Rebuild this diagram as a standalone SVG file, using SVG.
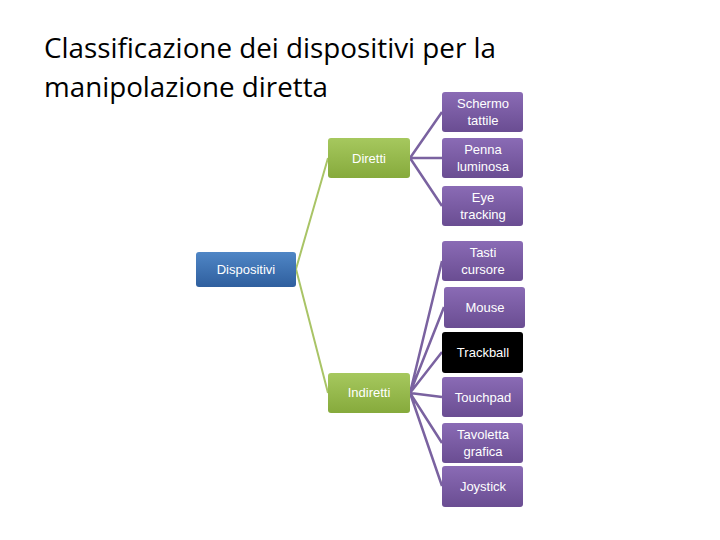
<svg xmlns="http://www.w3.org/2000/svg" width="720" height="540" viewBox="0 0 720 540">
<defs>
<linearGradient id="gb" x1="0" y1="0" x2="0" y2="1"><stop offset="0" stop-color="#4f86c6"/><stop offset="1" stop-color="#2f5f9e"/></linearGradient>
<linearGradient id="gg" x1="0" y1="0" x2="0" y2="1"><stop offset="0" stop-color="#a6c85e"/><stop offset="1" stop-color="#86aa3c"/></linearGradient>
<linearGradient id="gp" x1="0" y1="0" x2="0" y2="1"><stop offset="0" stop-color="#8a6bb5"/><stop offset="1" stop-color="#6a4d92"/></linearGradient>
<style>
.t{font-family:"Liberation Sans","DejaVu Sans",sans-serif;font-size:13px;fill:#fff;text-anchor:middle}
.h{font-family:"Open Sans","Liberation Sans",sans-serif;font-size:27px;fill:#000}
.lg{stroke:#a9c466;stroke-width:2;fill:none}
.lp{stroke:#7a62a0;stroke-width:2.5;fill:none}
.b{fill:url(#gb)}.g{fill:url(#gg)}.p{fill:url(#gp)}.k{fill:#000}
</style>
</defs>
<rect width="720" height="540" fill="#fff"/>
<text class="h" x="44" y="58" textLength="452" lengthAdjust="spacingAndGlyphs">Classificazione dei dispositivi per la</text>
<text class="h" x="44" y="97" textLength="284" lengthAdjust="spacingAndGlyphs">manipolazione diretta</text>
<g id="connectors">
<path class="lg" d="M296 269 L328 158 M296 269 L328 393"/>
<path class="lp" d="M410 158 L442 112 M410 158 L442 158 M410 158 L442 206"/>
<path class="lp" d="M410 393 L442 261 M410 393 L444 307 M410 393 L442 352 M410 393 L442 397 M410 393 L442 443 M410 393 L442 486"/>
</g>
<g id="n-dispositivi"><rect class="b" x="196" y="252" width="100" height="35" rx="3"/><text class="t" x="246" y="274">Dispositivi</text></g>
<g id="n-diretti"><rect class="g" x="328" y="138" width="82" height="40" rx="3"/><text class="t" x="369" y="163">Diretti</text></g>
<g id="n-indiretti"><rect class="g" x="328" y="373" width="82" height="40" rx="3"/><text class="t" x="369" y="397">Indiretti</text></g>
<g id="n-schermo"><rect class="p" x="442" y="92" width="81" height="40" rx="3"/><text class="t" x="483" y="108">Schermo</text><text class="t" x="483" y="125">tattile</text></g>
<g id="n-penna"><rect class="p" x="442" y="138" width="81" height="40" rx="3"/><text class="t" x="483" y="154">Penna</text><text class="t" x="483" y="171">luminosa</text></g>
<g id="n-eye"><rect class="p" x="442" y="186" width="81" height="40" rx="3"/><text class="t" x="483" y="202">Eye</text><text class="t" x="483" y="219">tracking</text></g>
<g id="n-tasti"><rect class="p" x="442" y="241" width="81" height="40" rx="3"/><text class="t" x="483" y="257">Tasti</text><text class="t" x="483" y="274">cursore</text></g>
<g id="n-mouse"><rect class="p" x="444" y="287" width="81" height="41" rx="3"/><text class="t" x="485" y="312">Mouse</text></g>
<g id="n-trackball"><rect class="k" x="442" y="332" width="81" height="41" rx="3"/><text class="t" x="483" y="357">Trackball</text></g>
<g id="n-touchpad"><rect class="p" x="442" y="377" width="81" height="40" rx="3"/><text class="t" x="483" y="402">Touchpad</text></g>
<g id="n-tavoletta"><rect class="p" x="442" y="423" width="81" height="40" rx="3"/><text class="t" x="483" y="439">Tavoletta</text><text class="t" x="483" y="456">grafica</text></g>
<g id="n-joystick"><rect class="p" x="442" y="466" width="81" height="41" rx="3"/><text class="t" x="483" y="491">Joystick</text></g>
</svg>
